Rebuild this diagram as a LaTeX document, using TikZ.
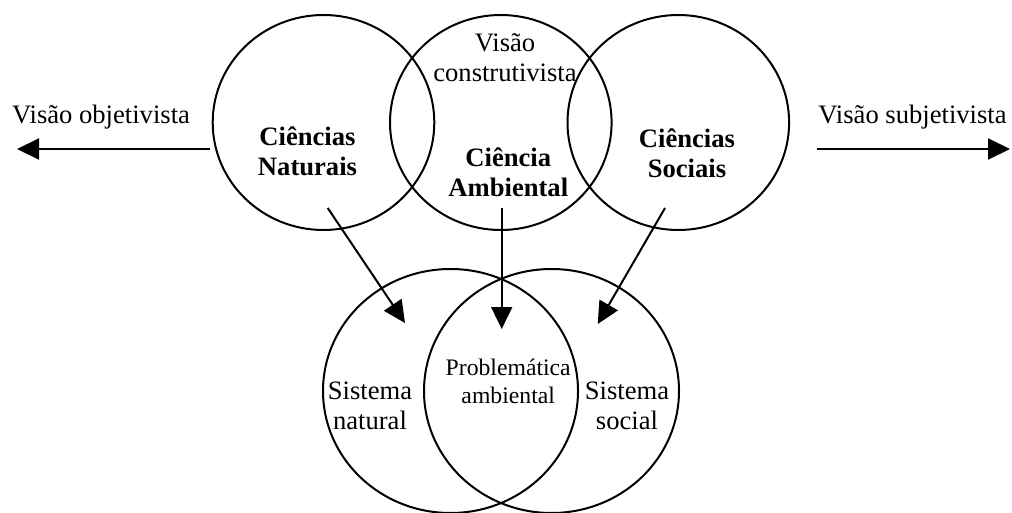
\documentclass[tikz,border=0pt]{standalone}
\usepackage{fontspec}
\setmainfont{Liberation Serif}
\usetikzlibrary{arrows.meta,shapes.geometric}
\tikzset{
  ring/.style={ellipse, draw, line width=2pt, inner sep=0pt, outer sep=0pt},
  lbl/.style={anchor=base, inner sep=0pt, font=\fontsize{26.6}{30}\selectfont},
  blbl/.style={lbl, font=\fontsize{26.6}{30}\selectfont\bfseries},
  slbl/.style={anchor=base, inner sep=0pt, font=\fontsize{23.7}{28}\selectfont},
  arr/.style={line width=2pt, -{Triangle[length=22pt,width=21pt]}}
}
\begin{document}
\begin{tikzpicture}[x=1pt,y=-1pt]
\useasboundingbox (0,0) rectangle (1012,513);
\clip (0,0) rectangle (1012,513);
% top circles
\node[ring, minimum width=221.6pt, minimum height=215pt] (cn) at (323.5,122.5) {};
\node[ring, minimum width=221.6pt, minimum height=215pt] (ca) at (500.8,122.5) {};
\node[ring, minimum width=221.6pt, minimum height=215pt] (cs) at (678.3,122.5) {};
% bottom circles
\node[ring, minimum width=255pt, minimum height=244pt] (sn) at (450.5,391) {};
\node[ring, minimum width=255pt, minimum height=244pt] (ss) at (551.5,391) {};
% texts
\node[lbl] (vo) at (101,123.5) {Visão objetivista};
\node[lbl] (vs) at (912.5,124) {Visão subjetivista};
\node[lbl] (vc1) at (505,52) {Visão};
\node[lbl] (vc2) at (505,82) {construtivista};
\node[blbl] (n1) at (307.5,146) {Ciências};
\node[blbl] (n2) at (307.5,176) {Naturais};
\node[blbl] (a1) at (508.3,167) {Ciência};
\node[blbl] (a2) at (508.3,197) {Ambiental};
\node[blbl] (s1) at (687,148) {Ciências};
\node[blbl] (s2) at (687,177.5) {Sociais};
\node[lbl] (sn1) at (370,399) {Sistema};
\node[lbl] (sn2) at (370,429) {natural};
\node[slbl] (pa1) at (508.2,375) {Problemática};
\node[slbl] (pa2) at (508.2,403) {ambiental};
\node[lbl] (ssc1) at (627,399) {Sistema};
\node[lbl] (ssc2) at (627,429) {social};
% connector end points
\coordinate (lo) at (210,149);
\coordinate (lt) at (17,149);
\coordinate (ro) at (817,149);
\coordinate (rt) at (1010,149);
\coordinate (d1s) at (327.7,208);
\coordinate (d1e) at (405,323);
\coordinate (d2s) at (501.7,208);
\coordinate (d2e) at (501.7,329);
\coordinate (d3s) at (665,208);
\coordinate (d3e) at (597.7,324);
% arrows
\draw[arr] (lo) -- (lt);
\draw[arr] (ro) -- (rt);
\draw[arr] (d1s) -- (d1e);
\draw[arr] (d2s) -- (d2e);
\draw[arr] (d3s) -- (d3e);
\end{tikzpicture}
\end{document}
